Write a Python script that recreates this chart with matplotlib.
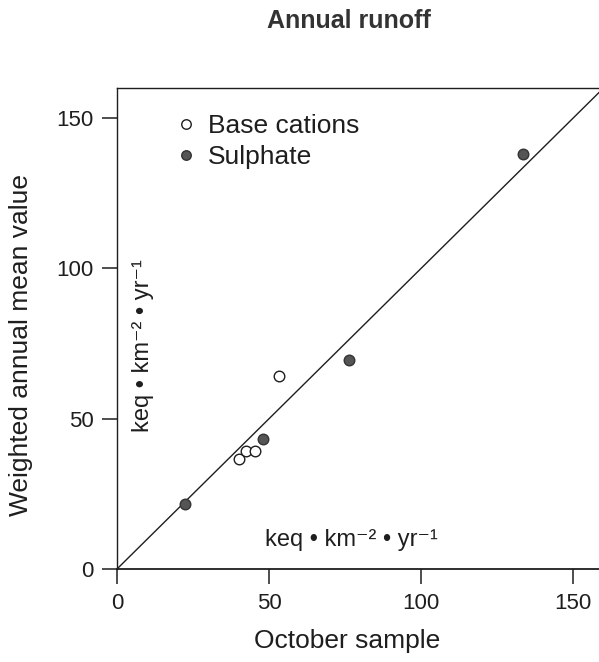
import matplotlib.pyplot as plt

plt.rcParams['font.family'] = ['Liberation Sans', 'DejaVu Sans']

# October sample vs weighted annual mean, keq km-2 yr-1
BASE_X = [40.2, 42.4, 45.5, 53.3]
BASE_Y = [36.6, 39.2, 39.2, 64.1]
SULPH_X = [22.4, 48.1, 76.4, 133.6]
SULPH_Y = [21.5, 43.3, 69.6, 138.2]
ONE_TO_ONE = [0, 165]
TICKS = [0, 50, 100, 150]

INK = '#1e1e1e'
UNIT = 'keq \u2022 km\u207b\u00b2 \u2022 yr\u207b\u00b9'

fig = plt.figure(figsize=(5.99, 6.62), dpi=100)
ax = fig.add_axes([117 / 599, 93 / 662, 482 / 599, 481 / 662])

ax.plot(ONE_TO_ONE, ONE_TO_ONE, color=INK, lw=1.0, zorder=1)
ax.plot(BASE_X, BASE_Y, 'o', ms=7.6, mfc='white', mec=INK, mew=1.0,
        linestyle='none', label='Base cations', zorder=3)
ax.plot(SULPH_X, SULPH_Y, 'o', ms=7.6, mfc='#555555', mec='#333333', mew=1.0,
        linestyle='none', label='Sulphate', zorder=3)

ax.set_xlim(0, 158.5)
ax.set_ylim(0, 160)
ax.set_xticks(TICKS)
ax.set_yticks(TICKS)
ax.tick_params(direction='out', length=11, width=1.1, color=INK,
               labelsize=16, labelcolor=INK, pad=6)
ax.spines['right'].set_visible(False)
for side in ['left', 'bottom', 'top']:
    ax.spines[side].set_color(INK)
    ax.spines[side].set_linewidth(1.0)
ax.spines['bottom'].set_linewidth(1.3)

leg = ax.legend(loc='upper left', bbox_to_anchor=(0.104, 0.967), frameon=False,
                fontsize=19, handlelength=0.6, handletextpad=0.55,
                labelspacing=0.24, markerscale=0.9, borderaxespad=0)
for t in leg.get_texts():
    t.set_color(INK)

ax.text(77.1, 9.8, UNIT, fontsize=17, color=INK, ha='center', va='center')
ax.text(8.6, 74.3, UNIT, fontsize=17, color=INK, ha='center', va='center',
        rotation=90)

fig.text(349 / 599, 1 - 21 / 662, 'Annual runoff', fontsize=18, fontweight='bold',
         color='#333333', ha='center', va='center')
fig.text(347 / 599, 1 - 641 / 662, 'October sample', fontsize=19, color=INK,
         ha='center', va='center')
fig.text(21 / 599, 1 - 345 / 662, 'Weighted annual mean value', fontsize=19,
         color=INK, ha='center', va='center', rotation=90)

fig.savefig('out.png', dpi=100)
